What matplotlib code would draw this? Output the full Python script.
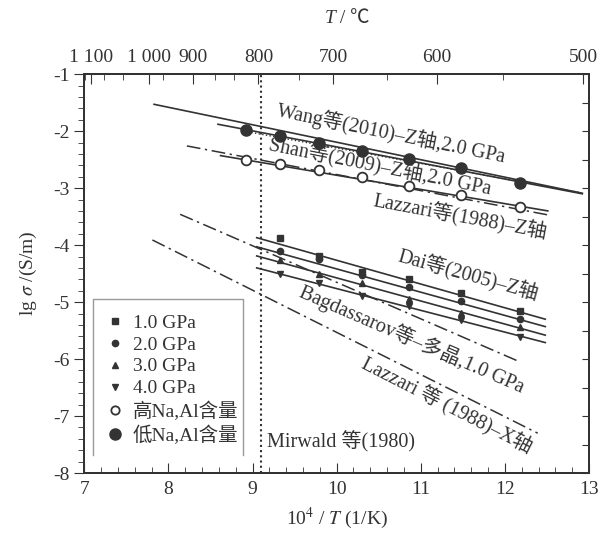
import matplotlib.pyplot as plt
from matplotlib.lines import Line2D

plt.rcParams['font.family'] = ['Liberation Serif', 'Noto Sans CJK SC']
plt.rcParams['mathtext.fontset'] = 'stix'

ink = '#333333'

# 10^4/T 温度点
x_pts = [8.92, 9.33, 9.79, 10.30, 10.86, 11.48, 12.18]
lg_low_na = [-1.98, -2.09, -2.21, -2.35, -2.49, -2.65, -2.91]
lg_high_na = [-2.51, -2.58, -2.69, -2.81, -2.96, -3.12, -3.33]

# Dai 等(2005) 不同压力下的数据
x_dai = [9.33, 9.79, 10.30, 10.86, 11.48, 12.18]
lg_dai_1 = [-3.88, -4.19, -4.47, -4.60, -4.84, -5.15]
lg_dai_2 = [-4.10, -4.25, -4.53, -4.73, -4.98, -5.30]
lg_dai_3 = [-4.26, -4.50, -4.67, -4.94, -5.19, -5.43]
lg_dai_4 = [-4.50, -4.66, -4.90, -5.07, -5.32, -5.61]

# 拟合线端点
dai_fit_x = [9.05, 12.48]
dai_fit_y = [[-3.87, -5.30], [-4.03, -5.43], [-4.19, -5.58], [-4.40, -5.71]]
wang_fit_x = [7.83, 12.92]
wang_fit_y = [-1.53, -3.09]
wang_pts_x = [8.59, 12.92]
wang_pts_y = [-1.88, -3.10]
shan_fit_x = [8.62, 12.51]
shan_fit_y = [-2.43, -3.40]
lazz_z_x = [8.22, 12.51]
lazz_z_y = [-2.26, -3.47]
bag_x = [8.14, 12.18]
bag_y = [-3.46, -6.05]
lazz_x_x = [7.81, 12.39]
lazz_x_y = [-3.91, -7.30]
mirwald_x = 9.1

# 上轴温度刻度
top_ticks = [7.08, 7.77, 8.29, 9.07, 9.96, 11.19, 12.93]
top_labels = ['1 100', '1 000', '900', '800', '700', '600', '500']
top_minor = [7.01, 7.24, 7.46, 7.94, 8.56, 8.78, 9.55, 10.6, 11.98]

dashdot = (0, (9, 3, 1.5, 3))

fig = plt.figure(figsize=(6.06, 5.37), dpi=100)
ax = fig.add_axes([0.139, 0.119, 0.833, 0.743])

# 拟合直线
ax.plot(wang_fit_x, wang_fit_y, color=ink, lw=1.2)
ax.plot(wang_pts_x, wang_pts_y, color=ink, lw=1.2)
ax.plot([8.9, 12.9], [-2.0, -3.08], color=ink, lw=1.0, ls=':')
ax.plot(shan_fit_x, shan_fit_y, color=ink, lw=1.2)
ax.plot(lazz_z_x, lazz_z_y, color=ink, lw=1.1, ls=dashdot)
for fy in dai_fit_y:
    ax.plot(dai_fit_x, fy, color=ink, lw=1.2)
ax.plot(bag_x, bag_y, color=ink, lw=1.1, ls=dashdot)
ax.plot(lazz_x_x, lazz_x_y, color=ink, lw=1.1, ls=dashdot)
ax.axvline(mirwald_x, color=ink, lw=1.5, ls=(0, (1, 1.5)))

# 数据点
ax.plot(x_pts, lg_low_na, 'o', color=ink, ms=8)
ax.plot(x_pts, lg_high_na, 'o', mfc='white', mec=ink, mew=1.3, ms=7)
ax.plot(x_dai, lg_dai_1, 's', color=ink, ms=4)
ax.plot(x_dai, lg_dai_2, 'o', color=ink, ms=4.5)
ax.plot(x_dai, lg_dai_3, '^', color=ink, ms=5)
ax.plot(x_dai, lg_dai_4, 'v', color=ink, ms=5)

# 标注
kw = dict(color=ink, fontsize=14.5, ha='center', va='center', rotation_mode='anchor')
ax.text(10.65, -2.04, 'Wang等(2010)–Z轴,2.0 GPa', rotation=-11.5, **kw)
ax.text(10.52, -2.63, 'Shan等(2009)–Z轴,2.0 GPa', rotation=-11.3, **kw)
ax.text(11.47, -3.51, 'Lazzari等(1988)–Z轴', rotation=-10.5, **kw)
ax.text(11.56, -4.54, 'Dai等(2005)–Z轴', rotation=-15.5, **kw)
ax.text(10.90, -5.65, 'Bagdassarov等–多晶,1.0 GPa', rotation=-23.4, **kw)
ax.text(11.31, -6.82, 'Lazzari 等 (1988)–X轴', rotation=-27, **kw)
ax.text(9.17, -7.45, 'Mirwald 等(1980)', color=ink, fontsize=14.5, ha='left', va='center')

# 图例
handles = [
    Line2D([], [], ls='none', marker='s', color=ink, ms=4),
    Line2D([], [], ls='none', marker='o', color=ink, ms=4.5),
    Line2D([], [], ls='none', marker='^', color=ink, ms=5),
    Line2D([], [], ls='none', marker='v', color=ink, ms=5),
    Line2D([], [], ls='none', marker='o', mfc='white', mec=ink, mew=1.3, ms=6),
    Line2D([], [], ls='none', marker='o', color=ink, ms=8),
]
labels = ['1.0 GPa', '2.0 GPa', '3.0 GPa', '4.0 GPa', '高Na,Al含量', '低Na,Al含量']
leg = ax.legend(handles, labels, loc='upper left', bbox_to_anchor=(0.027, 0.418),
                frameon=False, fontsize=14, handlelength=1.0, handletextpad=0.4,
                labelspacing=0.22, borderaxespad=0)
for t in leg.get_texts():
    t.set_color(ink)
box_kw = dict(color='#999999', lw=1.0, transform=ax.transAxes)
ax.plot([0.018, 0.018, 0.315, 0.315], [0.045, 0.436, 0.436, 0.045], **box_kw)

ax.set_xlim(7, 13)
ax.set_ylim(-8, -1)
ax.set_xticks(range(7, 14))
ax.set_yticks(range(-8, 0))
ax.set_yticklabels([str(v) for v in range(-8, 0)])
ax.minorticks_on()
ax.xaxis.set_minor_locator(plt.MultipleLocator(0.2))
ax.yaxis.set_minor_locator(plt.MultipleLocator(0.2))
ax.tick_params(axis='x', which='both', direction='in', top=False, labelsize=14, colors=ink, pad=6)
ax.tick_params(axis='x', which='major', length=7)
ax.tick_params(axis='x', which='minor', length=4)
ax.tick_params(axis='y', which='both', direction='out', left=True, right=False, labelsize=14, colors=ink)
ax.tick_params(axis='y', which='major', length=7)
ax.tick_params(axis='y', which='minor', length=4)
for s in ax.spines.values():
    s.set_color(ink)
    s.set_linewidth(1.3)

ax.set_xlabel('10$^4$ / $T$ (1/K)', fontsize=14, color=ink, labelpad=5)
ax.set_ylabel('lg $\\sigma$ /(S/m)', fontsize=14, color=ink, labelpad=10)

# 右轴刻度
ay = ax.twinx()
ay.set_ylim(-8, -1)
ay.set_yticks([v / 2 for v in range(-16, -1)])
ay.tick_params(axis='y', direction='in', length=5, labelright=False, colors=ink)

# 上轴温度
at = ax.twiny()
at.set_xlim(7, 13)
at.set_xticks(top_ticks)
at.set_xticklabels(top_labels)
at.set_xticks(top_minor, minor=True)
at.tick_params(axis='x', which='major', direction='in', length=7, labelsize=14, colors=ink, pad=6)
at.tick_params(axis='x', which='minor', direction='in', length=4, colors=ink)
for a in (ay, at):
    for s in a.spines.values():
        s.set_color(ink)
        s.set_linewidth(1.3)

# 上轴标题: 斜体 T 与 ℃ 分开绘制
fig.text(0.553, 0.965, 'T', fontsize=14, color=ink, style='italic', ha='right', va='center')
fig.text(0.553, 0.965, ' / ℃', fontsize=14, color=ink, ha='left', va='center')

fig.savefig('out.png', dpi=100)
